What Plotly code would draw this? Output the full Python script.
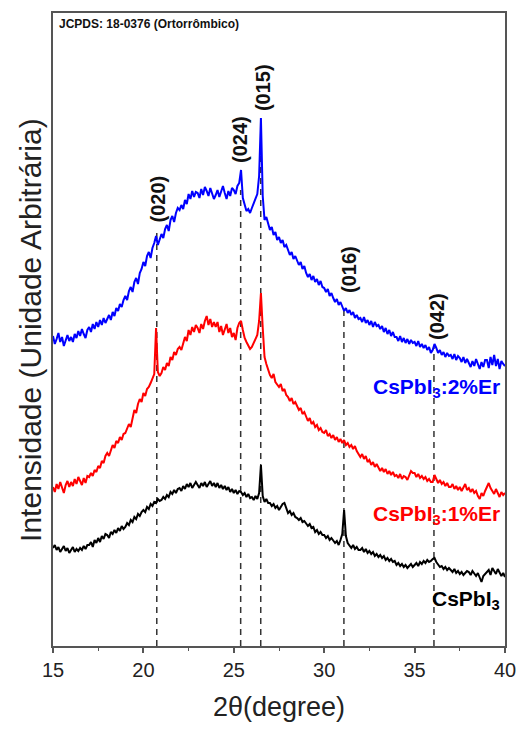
import numpy as np
import plotly.graph_objects as go

# 2-theta grid (degrees), 0.1 deg step
two_theta = np.round(np.arange(15.0, 40.0001, 0.1), 1)

# Intensities (arbitrary units, offset stacks)
cspbi3_2er = [
    310, 302, 307, 313, 304, 309, 300, 306, 311, 305,
    309, 304, 312, 308, 315, 310, 317, 312, 308, 316,
    319, 314, 322, 317, 324, 319, 326, 321, 328, 323,
    327, 331, 326, 334, 330, 338, 335, 342, 339, 346,
    350, 346, 355, 359, 354, 364, 368, 362, 373, 377,
    384, 380, 390, 394, 388, 398, 403, 410, 401, 407,
    412, 408, 417, 421, 415, 426, 430, 424, 433, 438,
    436, 441, 437, 446, 442, 452, 447, 455, 449, 454,
    453, 448, 457, 451, 459, 455, 450, 458, 452, 447,
    451, 456, 449, 454, 460, 453, 447, 455, 450, 458,
    456, 452, 460, 463, 476, 448, 440, 435, 437, 433,
    438, 443, 447, 452, 470, 528, 450, 426, 429, 421,
    416, 419, 411, 414, 406, 409, 403, 406, 399, 401,
    396, 391, 394, 387, 390, 385, 381, 384, 377, 380,
    373, 369, 372, 366, 370, 364, 367, 361, 365, 359,
    358, 354, 357, 350, 353, 348, 344, 347, 341, 344,
    339, 335, 338, 333, 336, 331, 334, 328, 331, 327,
    328, 324, 329, 323, 326, 321, 325, 319, 324, 320,
    321, 317, 320, 314, 318, 312, 316, 310, 314, 309,
    309, 305, 310, 304, 308, 303, 307, 302, 306, 303,
    304, 300, 305, 299, 302, 298, 301, 296, 299, 293,
    296, 302, 298, 293, 296, 291, 294, 289, 293, 290,
    291, 287, 292, 286, 290, 288, 284, 289, 283, 287,
    283, 279, 285, 280, 287, 282, 277, 284, 279, 286,
    286, 278, 289, 281, 291, 280, 287, 277, 285, 282,
    280,
]

cspbi3_1er = [
    159, 154, 162, 157, 164, 158, 153, 161, 165, 159,
    164, 160, 167, 162, 169, 165, 161, 168, 163, 170,
    169, 173, 170, 176, 174, 180, 178, 185, 183, 190,
    193, 190, 197, 201, 198, 205, 203, 209, 206, 212,
    213, 218, 222, 219, 229, 236, 233, 242, 247, 244,
    253, 250, 257, 259, 263, 268, 272, 318, 274, 270,
    273, 279, 276, 283, 280, 289, 286, 294, 291, 297,
    299, 296, 304, 309, 305, 316, 311, 319, 314, 321,
    318, 313, 322, 317, 325, 330, 321, 327, 319, 324,
    319, 324, 314, 320, 311, 316, 322, 313, 318, 309,
    313, 306, 318, 323, 325, 316, 308, 304, 300, 297,
    299, 303, 306, 311, 325, 353, 318, 289, 282, 276,
    271, 268, 272, 264, 261, 259, 262, 255, 257, 251,
    249, 245, 248, 242, 244, 239, 236, 238, 232, 234,
    229, 225, 228, 222, 224, 219, 221, 216, 218, 214,
    213, 216, 210, 212, 208, 211, 206, 209, 204, 207,
    203, 206, 201, 203, 199, 201, 197, 200, 195, 192,
    189, 192, 187, 190, 184, 186, 181, 184, 179, 182,
    179, 175, 178, 174, 177, 172, 175, 171, 174, 170,
    171, 168, 172, 167, 170, 169, 166, 171, 175, 173,
    173, 169, 172, 168, 170, 167, 169, 165, 167, 164,
    164, 171, 166, 163, 166, 162, 164, 160, 163, 159,
    159, 162, 157, 160, 156, 159, 155, 158, 162, 156,
    158, 154, 157, 153, 155, 150, 147, 153, 150, 155,
    160, 163, 158, 155, 152, 157, 153, 149, 154, 151,
    153,
]

cspbi3 = [
    98, 101, 96, 99, 94, 97, 100, 95, 98, 93,
    96, 99, 94, 97, 95, 98, 96, 100, 97, 101,
    101, 104, 99, 106, 103, 108, 104, 110, 107, 112,
    111, 108, 114, 112, 116, 113, 118, 115, 120, 117,
    119, 123, 121, 126, 124, 129, 127, 132, 130, 134,
    136, 134, 139, 137, 142, 140, 144, 143, 147, 145,
    146, 149, 147, 151, 149, 154, 152, 156, 153, 157,
    158, 155, 160, 157, 162, 159, 163, 158, 161, 164,
    161, 158, 163, 160, 164, 159, 162, 165, 160, 163,
    159, 163, 158, 161, 157, 160, 156, 159, 154, 157,
    153, 156, 152, 155, 154, 151, 153, 149, 152, 148,
    149, 146, 150, 147, 153, 181, 150, 144, 147, 143,
    143, 140, 142, 138, 140, 136, 139, 142, 143, 137,
    133, 135, 131, 133, 129, 128, 126, 128, 124, 125,
    123, 120, 122, 118, 119, 114, 116, 112, 114, 111,
    111, 108, 110, 106, 108, 106, 103, 105, 101, 106,
    112, 136, 110, 103, 100, 98, 101, 97, 99, 96,
    96, 98, 94, 97, 93, 95, 92, 94, 90, 92,
    89, 91, 88, 90, 86, 88, 85, 87, 84, 85,
    81, 83, 80, 82, 79, 81, 78, 80, 82, 79,
    81, 83, 80, 84, 82, 85, 83, 86, 84, 85,
    87, 88, 84, 81, 79, 80, 77, 79, 76, 78,
    76, 74, 77, 73, 75, 72, 74, 71, 73, 75,
    74, 71, 75, 72, 70, 73, 68, 64, 70, 72,
    73, 76, 71, 78, 75, 72, 77, 74, 70, 73,
    69,
]

# JCPDS 18-0376 reflections
ref_hkl = ["(020)", "(024)", "(015)", "(016)", "(042)"]
ref_pos = [20.74, 25.38, 26.49, 31.09, 36.07]
ref_line_top = [414, 456, 526, 336, 299]
ref_label_x = [20.78, 25.34, 26.62, 31.37, 36.24]
ref_label_y = [447, 507, 558, 377, 329]

series_names = ["CsPbI<sub>3</sub>", "CsPbI<sub>3</sub>:1%Er", "CsPbI<sub>3</sub>:2%Er"]
series_colors = ["#000000", "#ff0000", "#0000ff"]
series_label_y = [46, 131, 258]

assert len(cspbi3) == len(two_theta) == len(cspbi3_1er) == len(cspbi3_2er)

FONT = "Liberation Sans, Arial, sans-serif"
fig = go.Figure()

for ys, col in zip([cspbi3, cspbi3_1er, cspbi3_2er], series_colors):
    fig.add_trace(go.Scatter(x=two_theta, y=ys, mode="lines",
                             line=dict(color=col, width=2), showlegend=False))

shapes = []
for p, top in zip(ref_pos, ref_line_top):
    shapes.append(dict(type="line", xref="x", yref="y", x0=p, x1=p, y0=0, y1=top,
                       line=dict(color="#333333", width=1.5, dash="6px,5px"), layer="below"))

annotations = []
for lbl, lx, ly in zip(ref_hkl, ref_label_x, ref_label_y):
    annotations.append(dict(x=lx, y=ly, xref="x", yref="y", text=f"<b>{lbl}</b>",
                            textangle=-90, showarrow=False,
                            font=dict(family=FONT, size=20, color="#111111")))

for name, col, ly in zip(series_names, series_colors, series_label_y):
    annotations.append(dict(x=39.85, y=ly, xref="x", yref="y", text=f"<b>{name}</b>",
                            xanchor="right", yanchor="middle", showarrow=False,
                            font=dict(family=FONT, size=21, color=col)))

annotations.append(dict(x=15.2, y=622, xref="x", yref="y", text="<b>JCPDS: 18-0376 (Ortorrômbico)</b>",
                        xanchor="left", yanchor="middle", showarrow=False,
                        font=dict(family=FONT, size=12, color="#111111")))

annotations.append(dict(x=0.5, y=-0.097, xref="paper", yref="paper", text="2θ(degree)",
                        xanchor="center", yanchor="middle", showarrow=False,
                        font=dict(family=FONT, size=27, color="#222222")))
annotations.append(dict(x=-0.05, y=0.5, xref="paper", yref="paper",
                        text="Intensidade (Unidade Arbitrária)", textangle=-90,
                        xanchor="center", yanchor="middle", showarrow=False,
                        font=dict(family=FONT, size=30, color="#222222")))

fig.update_layout(
    width=518, height=729,
    margin=dict(l=53, r=13, t=13, b=83),
    paper_bgcolor="white", plot_bgcolor="white",
    shapes=shapes, annotations=annotations,
    xaxis=dict(range=[15, 40], tickmode="array", tickvals=[15, 20, 25, 30, 35, 40],
               ticks="outside", ticklen=5, tickwidth=1.5, tickcolor="#555555",
               minor=dict(dtick=2.5, tick0=15, ticks="outside", ticklen=3, tickcolor="#555555", tickwidth=1.2),
               showline=True, linecolor="#555555", linewidth=1.5, mirror=True,
               showgrid=False, zeroline=False, automargin=False,
               tickfont=dict(family=FONT, size=20, color="#222222")),
    yaxis=dict(range=[0, 633], showticklabels=False, ticks="", showgrid=False, automargin=False,
               zeroline=False, showline=True, linecolor="#555555", linewidth=1.5, mirror=True),
)

fig.write_html("out.html", config={"displayModeBar": False},
               post_script="document.body.style.margin='0';document.body.style.padding='0';document.body.style.overflow='hidden';")
